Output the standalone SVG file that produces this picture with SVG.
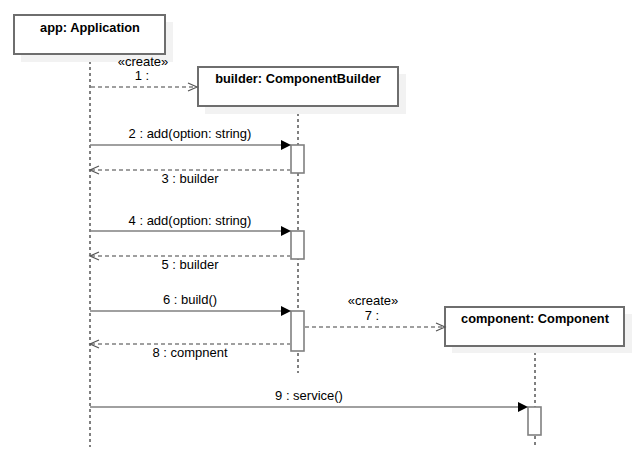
<svg xmlns="http://www.w3.org/2000/svg" width="640" height="467" viewBox="0 0 640 467">
<style>
.shadow{fill:#f2f2f2;stroke:none}
.box{fill:#fff;stroke:#6e6e6e;stroke-width:2}
.act{fill:#fff;stroke:#808080;stroke-width:1.6}
.life{stroke:#000;stroke-width:1;stroke-dasharray:3,3;fill:none}
.msg{stroke:#808080;stroke-width:1.6;fill:none}
.ret{stroke:#808080;stroke-width:1.6;stroke-dasharray:4,3;fill:none}
.open{stroke:#555;stroke-width:1.2;fill:none}
.head{fill:#000;stroke:none}
.t{font-family:"Liberation Sans",Arial,sans-serif;font-size:13px;fill:#000;text-anchor:middle}
.b{font-family:"Liberation Sans",Arial,sans-serif;font-size:12.8px;font-weight:bold;fill:#000;text-anchor:middle}
</style>
<g id="lifelines">
<line class="life" x1="90" y1="55" x2="90" y2="447"/>
<line class="life" x1="298" y1="107" x2="298" y2="373"/>
<line class="life" x1="535" y1="346" x2="535" y2="446"/>
</g>
<g id="app">
<rect class="shadow" x="21" y="22" width="152" height="40"/>
<rect class="box" x="14" y="15" width="151" height="39"/>
<text class="b" x="90" y="32">app: Application</text>
</g>
<g id="builder">
<rect class="shadow" x="205" y="74" width="201" height="40"/>
<rect class="box" x="198" y="67" width="200" height="39"/>
<text class="b" x="298" y="83">builder: ComponentBuilder</text>
</g>
<g id="component">
<rect class="shadow" x="452" y="314" width="180" height="39"/>
<rect class="box" x="445" y="307" width="179" height="39"/>
<text class="b" x="535" y="323">component: Component</text>
</g>
<g id="activations">
<rect class="act" x="291" y="145" width="13" height="28"/>
<rect class="act" x="291" y="231" width="13" height="28"/>
<rect class="act" x="291" y="311" width="13" height="40"/>
<rect class="act" x="528" y="407" width="13" height="28"/>
</g>
<g id="connectors">
<line class="ret" x1="91" y1="87" x2="196" y2="87"/>
<polyline class="open" points="188,83 197,87 188,91"/>
<text class="t" x="143" y="66">«create»</text>
<text class="t" x="142" y="80">1 :</text>

<line class="msg" x1="90" y1="145" x2="282" y2="145"/>
<polygon class="head" points="281,140 291,145 281,150"/>
<text class="t" x="190" y="138">2 : add(option: string)</text>
<line class="ret" x1="91" y1="170" x2="290" y2="170"/>
<polyline class="open" points="99,166 90,170 99,174"/>
<text class="t" x="190" y="183">3 : builder</text>

<line class="msg" x1="90" y1="231" x2="282" y2="231"/>
<polygon class="head" points="281,226 291,231 281,236"/>
<text class="t" x="190" y="225">4 : add(option: string)</text>
<line class="ret" x1="91" y1="256" x2="290" y2="256"/>
<polyline class="open" points="99,252 90,256 99,260"/>
<text class="t" x="190" y="269">5 : builder</text>

<line class="msg" x1="90" y1="311" x2="282" y2="311"/>
<polygon class="head" points="281,306 291,311 281,316"/>
<text class="t" x="190" y="304">6 : build()</text>
<line class="ret" x1="91" y1="344" x2="290" y2="344"/>
<polyline class="open" points="99,340 90,344 99,348"/>
<text class="t" x="190" y="357">8 : compnent</text>

<line class="ret" x1="305" y1="327" x2="444" y2="327"/>
<polyline class="open" points="436,323 445,327 436,331"/>
<text class="t" x="373" y="305">«create»</text>
<text class="t" x="372" y="320">7 :</text>

<line class="msg" x1="90" y1="407" x2="519" y2="407"/>
<polygon class="head" points="518,402 528,407 518,412"/>
<text class="t" x="309" y="400">9 : service()</text>
</g>
</svg>
